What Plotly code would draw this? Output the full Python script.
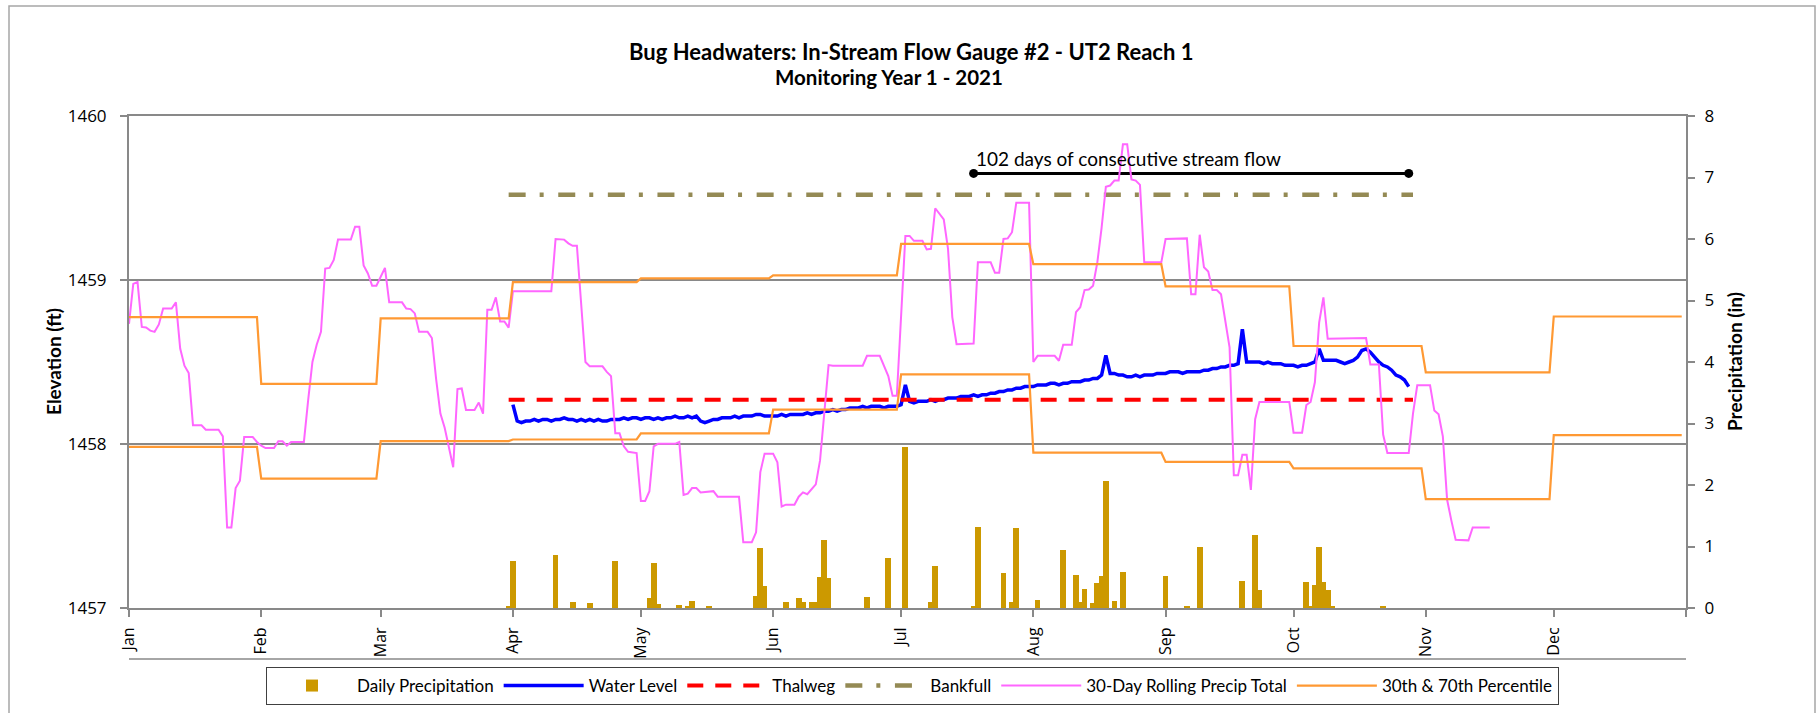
import pandas as pd
import plotly.graph_objects as go

# ---------------- data ----------------
YEAR = 2021
month_names = ["Jan", "Feb", "Mar", "Apr", "May", "Jun", "Jul", "Aug", "Sep", "Oct", "Nov", "Dec"]
month_starts = [f"{YEAR}-{m:02d}-01" for m in range(1, 13)]

# 30th / 70th percentile of 30-day rolling precip (in), one value per month
p70_monthly = [4.73, 3.645, 4.71, 5.30, 5.36, 5.41, 5.92, 5.59, 5.23, 4.26, 3.83, 4.74]
p30_monthly = [2.62, 2.105, 2.715, 2.74, 2.84, 3.225, 3.80, 2.525, 2.375, 2.27, 1.77, 2.81]

# daily precipitation (day of year, 0 = Jan 1) and amount (in)
precip_doy = [89, 90, 100, 104, 108, 114, 122, 123, 124, 129, 131, 132, 136, 147, 148, 149,
              154, 157, 158, 160, 161, 162, 163, 164, 173, 178, 182, 188, 189, 198, 199, 205,
              207, 208, 213, 219, 222, 223, 224, 226, 227, 228, 229, 231, 233, 243, 248, 251,
              261, 264, 265, 276, 277, 278, 279, 280, 281, 282, 294]
precip_in = [0.04, 0.76, 0.86, 0.09, 0.08, 0.76, 0.17, 0.73, 0.07, 0.05, 0.04, 0.12, 0.04, 0.19, 0.97, 0.35,
             0.09, 0.16, 0.09, 0.09, 0.09, 0.51, 1.10, 0.48, 0.18, 0.81, 2.61, 0.09, 0.68, 0.04, 1.32, 0.57,
             0.10, 1.30, 0.13, 0.95, 0.53, 0.10, 0.31, 0.08, 0.41, 0.52, 2.07, 0.11, 0.59, 0.52, 0.04, 0.99,
             0.44, 1.18, 0.29, 0.43, 0.04, 0.38, 0.99, 0.43, 0.30, 0.04, 0.04]

# 30-day rolling precipitation total (vertices: day of year, inches)
rolling_doy = [0, 1, 2, 3, 4, 5, 6, 7, 8, 10, 11, 12, 13, 14, 15, 17, 18, 21, 22, 23, 24, 25, 26, 27,
               29, 30, 31, 32, 34, 35, 36, 37, 38, 41, 42, 43, 44, 45, 46, 47, 48, 49, 52, 53, 54,
               55, 56, 57, 58, 60, 61, 64, 65, 66, 67, 68, 70, 71, 72, 73, 74, 76, 77, 78, 79, 81,
               82, 83, 84, 85, 86, 87, 88, 89, 90, 99, 100, 102, 103, 104, 105, 107, 108, 111, 112,
               113, 114, 115, 116, 117, 119, 120, 121, 122, 123, 124, 128, 129, 130, 131, 132, 133,
               134, 137, 138, 143, 144, 146, 147, 148, 149, 151, 152, 153, 154, 156, 157, 158, 159,
               161, 162, 163, 164, 165, 172, 173, 176, 178, 179, 180, 181, 182, 183, 184, 186, 187,
               188, 189, 191, 192, 193, 194, 198, 199, 202, 203, 204, 205, 206, 207, 208, 211, 212,
               213, 217, 218, 219, 221, 222, 223, 224, 225, 226, 227, 228, 229, 230, 231, 232, 233,
               234, 235, 236, 237, 238, 242, 243, 248, 249, 250, 251, 252, 253, 254, 255, 256, 258,
               259, 260, 261, 262, 263, 264, 265, 272, 273, 275, 276, 277, 278, 279, 280, 281, 290,
               291, 293, 294, 295, 300, 301, 302, 305, 306, 307, 308, 309, 310, 311, 314, 315, 319]
rolling_in = [4.62, 5.27, 5.30, 4.57, 4.56, 4.51, 4.49, 4.61, 4.87, 4.87, 4.97, 4.22, 3.94, 3.82, 2.97,
              2.97, 2.90, 2.90, 2.79, 1.31, 1.31, 1.95, 2.07, 2.78, 2.78, 2.70, 2.64, 2.60, 2.60, 2.71,
              2.71, 2.64, 2.70, 2.70, 3.38, 4.00, 4.28, 4.49, 5.52, 5.53, 5.66, 5.99, 5.99, 6.20, 6.20,
              5.57, 5.44, 5.24, 5.24, 5.53, 4.97, 4.97, 4.87, 4.86, 4.79, 4.49, 4.49, 4.39, 3.72, 3.16,
              2.93, 2.29, 3.56, 3.57, 3.22, 3.22, 3.34, 3.16, 4.85, 4.85, 5.05, 4.66, 4.66, 4.56, 5.15,
              5.15, 6.00, 5.99, 5.93, 5.89, 5.89, 4.00, 3.93, 3.93, 3.84, 3.77, 2.84, 2.84, 2.63, 2.54,
              2.52, 1.74, 1.74, 1.90, 2.63, 2.67, 2.67, 2.70, 1.84, 1.86, 1.95, 1.95, 1.88, 1.90, 1.81,
              1.81, 1.07, 1.07, 1.23, 2.21, 2.51, 2.51, 2.37, 1.65, 1.68, 1.68, 1.81, 1.88, 1.85, 2.01,
              2.40, 3.21, 3.95, 3.94, 3.94, 4.10, 4.10, 3.77, 3.45, 3.45, 4.84, 6.05, 6.05, 5.97, 5.97,
              5.83, 5.84, 6.50, 6.32, 5.84, 4.73, 4.29, 4.30, 5.62, 5.62, 5.45, 5.45, 6.00, 6.01, 6.11,
              6.59, 6.59, 4.00, 4.10, 4.10, 4.02, 4.28, 4.28, 4.81, 4.89, 5.17, 5.18, 5.24, 5.62, 6.18,
              6.85, 6.87, 6.95, 6.95, 7.54, 7.54, 6.97, 6.95, 6.88, 5.62, 5.62, 6.00, 6.01, 5.10, 5.10,
              6.07, 5.54, 5.47, 5.17, 5.17, 5.10, 4.24, 2.16, 2.16, 2.49, 2.49, 1.92, 3.07, 3.35, 3.35,
              2.85, 2.85, 3.30, 3.35, 3.67, 4.64, 5.05, 4.38, 4.39, 3.96, 3.96, 2.82, 2.52, 2.52, 3.16,
              3.62, 3.62, 3.21, 3.15, 2.79, 1.76, 1.42, 1.11, 1.10, 1.31, 1.31]

# daily water level (ft), starting Apr 1
wl_start = f"{YEAR}-04-01"
water_level = [
    # Apr
    1458.24, 1458.14, 1458.13, 1458.14, 1458.14, 1458.15, 1458.14, 1458.15, 1458.15, 1458.14,
    1458.15, 1458.15, 1458.16, 1458.15, 1458.15, 1458.14, 1458.15, 1458.14, 1458.15, 1458.14,
    1458.15, 1458.14, 1458.14, 1458.15, 1458.15, 1458.15, 1458.16, 1458.15, 1458.16, 1458.16,
    # May
    1458.15, 1458.16, 1458.16, 1458.15, 1458.16, 1458.15, 1458.16, 1458.16, 1458.17, 1458.16,
    1458.16, 1458.17, 1458.16, 1458.17, 1458.14, 1458.13, 1458.14, 1458.15, 1458.15, 1458.16,
    1458.16, 1458.16, 1458.17, 1458.16, 1458.17, 1458.17, 1458.17, 1458.18, 1458.18, 1458.17, 1458.17,
    # Jun
    1458.17, 1458.17, 1458.18, 1458.17, 1458.18, 1458.18, 1458.18, 1458.18, 1458.19, 1458.18,
    1458.19, 1458.19, 1458.20, 1458.20, 1458.21, 1458.20, 1458.21, 1458.21, 1458.22, 1458.22,
    1458.22, 1458.23, 1458.22, 1458.23, 1458.23, 1458.23, 1458.22, 1458.23, 1458.23, 1458.23,
    # Jul
    1458.24, 1458.36, 1458.26, 1458.25, 1458.26, 1458.26, 1458.26, 1458.27, 1458.26, 1458.27,
    1458.27, 1458.28, 1458.28, 1458.28, 1458.29, 1458.29, 1458.29, 1458.30, 1458.29, 1458.30,
    1458.30, 1458.31, 1458.31, 1458.32, 1458.32, 1458.33, 1458.33, 1458.34, 1458.34, 1458.35, 1458.35,
    # Aug
    1458.35, 1458.36, 1458.36, 1458.36, 1458.37, 1458.37, 1458.36, 1458.37, 1458.37, 1458.38,
    1458.38, 1458.38, 1458.39, 1458.39, 1458.40, 1458.40, 1458.42, 1458.54, 1458.43, 1458.43,
    1458.42, 1458.42, 1458.41, 1458.41, 1458.42, 1458.41, 1458.42, 1458.42, 1458.42, 1458.43, 1458.43,
    # Sep
    1458.43, 1458.44, 1458.44, 1458.44, 1458.43, 1458.44, 1458.44, 1458.44, 1458.44, 1458.45,
    1458.45, 1458.46, 1458.46, 1458.47, 1458.47, 1458.48, 1458.48, 1458.49, 1458.70, 1458.50,
    1458.50, 1458.50, 1458.50, 1458.49, 1458.50, 1458.49, 1458.49, 1458.49, 1458.48, 1458.48,
    # Oct
    1458.48, 1458.47, 1458.48, 1458.48, 1458.49, 1458.50, 1458.58, 1458.51, 1458.51, 1458.51,
    1458.51, 1458.50, 1458.49, 1458.50, 1458.51, 1458.53, 1458.57, 1458.58, 1458.56, 1458.53,
    1458.50, 1458.48, 1458.47, 1458.45, 1458.42, 1458.41, 1458.39, 1458.35,
]

thalweg_elev = 1458.27
bankfull_elev = 1459.52
reference_dates = [f"{YEAR}-03-31", f"{YEAR}-10-29"]
flow_dates = [f"{YEAR}-07-18", f"{YEAR}-10-28"]
flow_elev = 1459.65
flow_label = "102 days of consecutive stream flow"

# ---------------- derived ----------------
jan1 = pd.Timestamp(f"{YEAR}-01-01")
precip_x = [jan1 + pd.Timedelta(days=d) for d in precip_doy]
rolling_x = [jan1 + pd.Timedelta(days=d) for d in rolling_doy]
wl_x = pd.date_range(wl_start, periods=len(water_level), freq="D")

pct_x, p70_y, p30_y = [], [], []
for i, ms in enumerate(month_starts):
    days = pd.date_range(ms, pd.Timestamp(ms) + pd.offsets.MonthEnd(0), freq="D")
    pct_x.extend(days)
    p70_y.extend([p70_monthly[i]] * len(days))
    p30_y.extend([p30_monthly[i]] * len(days))

# ---------------- figure ----------------
W, H = 1820, 713
L, R, T, B = 129, 134, 116, 105
PW, PH = W - L - R, H - T - B


def px_x(px):
    return (px - L) / PW


def px_y(py):
    return (H - B - py) / PH


GRAY = "#898989"
TICKFONT = dict(family="Open Sans", size=17, color="#000000")
LEGFONT = dict(family="Lato", size=17, color="#000000")

fig = go.Figure()

fig.add_trace(go.Bar(
    x=precip_x, y=precip_in, name="Daily Precipitation", yaxis="y2",
    marker=dict(color="#CC9900", line=dict(width=0)), width=86400000 * 1.35,
))
fig.add_trace(go.Scatter(
    x=wl_x, y=water_level, name="Water Level", mode="lines",
    line=dict(color="#0000FF", width=3.5),
))
fig.add_trace(go.Scatter(
    x=reference_dates, y=[thalweg_elev] * 2, name="Thalweg", mode="lines",
    line=dict(color="#FF0000", width=4, dash="16px,12px"),
))
fig.add_trace(go.Scatter(
    x=reference_dates, y=[bankfull_elev] * 2, name="Bankfull", mode="lines",
    line=dict(color="#948A54", width=4.5, dash="17px,14px,4px,14.6px"),
))
fig.add_trace(go.Scatter(
    x=flow_dates, y=[flow_elev] * 2, mode="lines+markers", showlegend=False,
    line=dict(color="#000000", width=3), marker=dict(color="#000000", size=9),
))
fig.add_trace(go.Scatter(
    x=rolling_x, y=rolling_in, name="30-Day Rolling Precip Total", mode="lines", yaxis="y2",
    line=dict(color="#FF66FF", width=2),
))
fig.add_trace(go.Scatter(
    x=pct_x, y=p70_y, name="30th & 70th Percentile", mode="lines", yaxis="y2",
    legendgroup="pct", line=dict(color="#FF9933", width=2.2),
))
fig.add_trace(go.Scatter(
    x=pct_x, y=p30_y, name="30th & 70th Percentile", mode="lines", yaxis="y2",
    legendgroup="pct", showlegend=False, line=dict(color="#FF9933", width=2.2),
))

fig.update_layout(
    width=W, height=H,
    margin=dict(l=L, r=R, t=T, b=B, autoexpand=False),
    paper_bgcolor="white", plot_bgcolor="white",
    bargap=0,
    xaxis=dict(
        type="date", range=[f"{YEAR}-01-01", f"{YEAR + 1}-01-01"],
        tickvals=month_starts + [f"{YEAR + 1}-01-01"], ticktext=month_names + [""],
        tickangle=-90, ticks="outside", ticklen=7, tickcolor=GRAY, tickwidth=1.5,
        showline=True, linecolor=GRAY, linewidth=2, mirror=True,
        showgrid=False, tickfont=dict(family="Open Sans", size=16, color="#000000"),
        ticklabelstandoff=4,
    ),
    yaxis=dict(
        range=[1457, 1460], tickvals=[1457, 1458, 1459, 1460],
        ticks="outside", ticklen=7, tickcolor=GRAY, tickwidth=1.5,
        showline=True, linecolor=GRAY, linewidth=2,
        showgrid=True, gridcolor=GRAY, gridwidth=1.5, zeroline=False,
        tickfont=TICKFONT, ticklabelstandoff=10,
    ),
    yaxis2=dict(
        range=[0, 8], dtick=1, overlaying="y", side="right",
        ticks="outside", ticklen=7, tickcolor=GRAY, tickwidth=1.5,
        showline=True, linecolor=GRAY, linewidth=2,
        showgrid=False, zeroline=False, tickfont=TICKFONT, ticklabelstandoff=6,
    ),
    legend=dict(
        orientation="h", x=px_x(912.5), xanchor="center", y=px_y(667), yanchor="top",
        bordercolor="#404040", borderwidth=1, font=LEGFONT, traceorder="normal",
        itemwidth=80,
    ),
    showlegend=True,
)

annotations = [
    dict(text="<b>Bug Headwaters: In-Stream Flow Gauge #2 - UT2 Reach 1</b>",
         x=px_x(911), y=px_y(52), font=dict(family="Lato", size=22, color="#000000")),
    dict(text="<b>Monitoring Year 1 - 2021</b>",
         x=px_x(889), y=px_y(77), font=dict(family="Lato", size=20.5, color="#000000")),
    dict(text="<b>Elevation (ft)</b>", textangle=-90,
         x=px_x(53), y=0.5, font=dict(family="Lato", size=19, color="#000000")),
    dict(text="<b>Precipitation (in)</b>", textangle=-90,
         x=px_x(1734), y=0.5, font=dict(family="Lato", size=19, color="#000000")),
]
for a in annotations:
    a.update(xref="paper", yref="paper", xanchor="center", yanchor="middle", showarrow=False)
fig.update_layout(annotations=annotations)
fig.add_annotation(
    text=flow_label, x=flow_dates[0], y=flow_elev, xref="x", yref="y",
    xanchor="left", yanchor="bottom", yshift=1, xshift=0, showarrow=False,
    font=dict(family="Lato", size=19, color="#000000"),
)

fig.add_shape(type="rect", xref="paper", yref="paper",
              x0=px_x(9), x1=px_x(1815), y0=px_y(740), y1=px_y(6),
              line=dict(color="#A6A6A6", width=1.5), layer="below")
fig.add_shape(type="line", xref="paper", yref="paper",
              x0=0, x1=1, y0=px_y(659), y1=px_y(659),
              line=dict(color="#A6A6A6", width=2))

fig.write_html(
    "out.html",
    config={"displayModeBar": False},
    post_script="document.body.style.margin='0';document.documentElement.style.overflow='hidden';",
)
